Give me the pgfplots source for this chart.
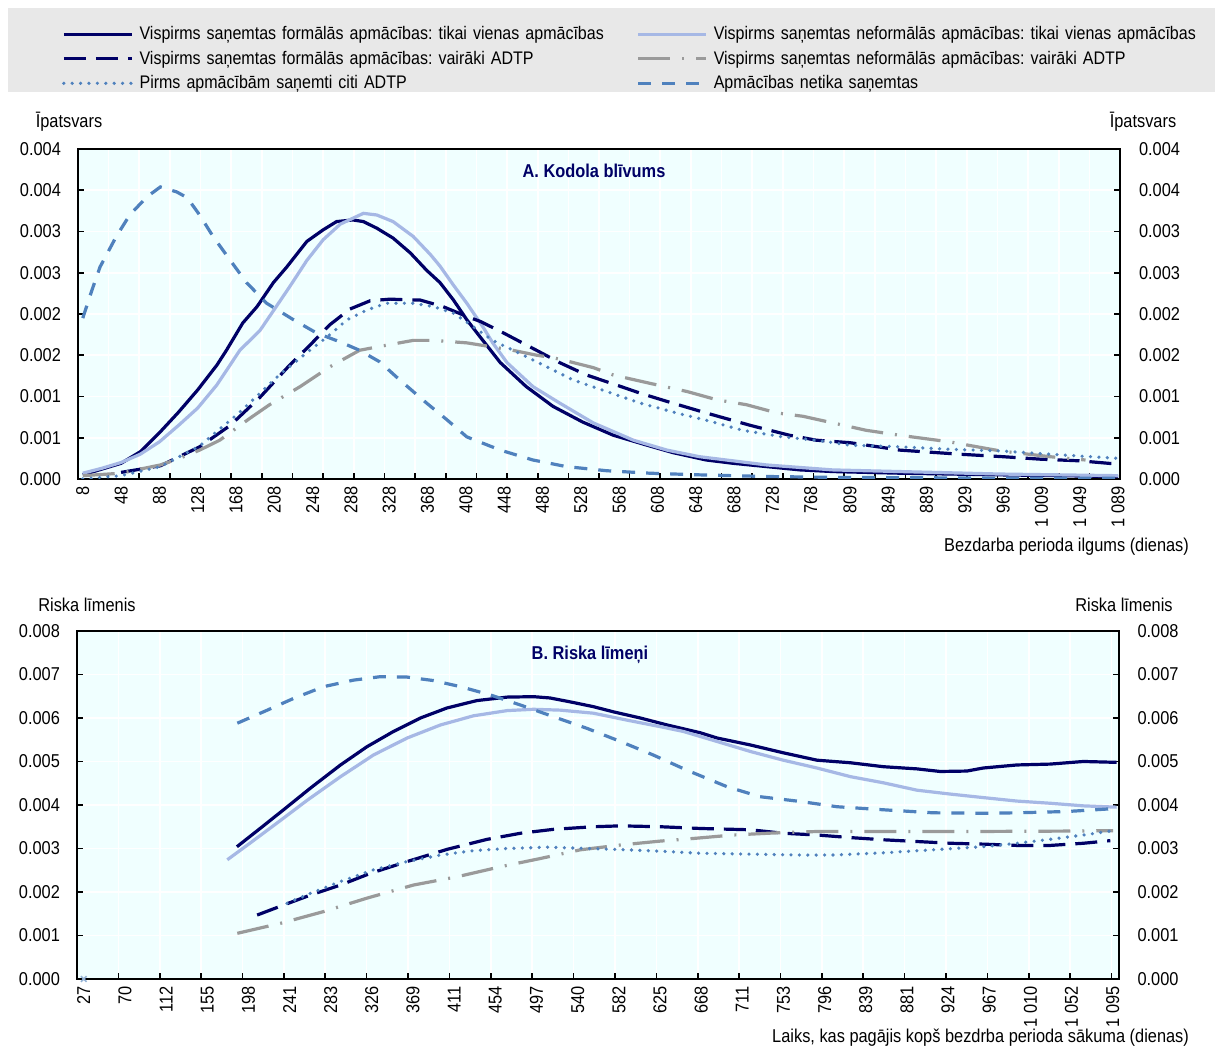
\documentclass[border=0pt]{standalone}
\usepackage{fontspec}
\setmainfont[FakeStretch=0.88]{Liberation Sans}
\usepackage{pgfplots}
\pgfplotsset{compat=1.18}
\frenchspacing
\definecolor{cNavy}{RGB}{0,0,102}
\definecolor{cLight}{HTML}{A6B8E5}
\definecolor{cGray}{HTML}{9A9A9A}
\definecolor{cBlue}{HTML}{4F81BD}
\definecolor{cBg}{HTML}{F0FFFF}
\definecolor{cLeg}{HTML}{E8E8E8}
\newcommand\f{\fontsize{9.3pt}{11pt}\selectfont}
\newcommand\fl{\fontsize{9.1pt}{11pt}\selectfont}
\pgfplotsset{
  base/.style={scale only axis, anchor=south west,
    /pgf/number format/assume math mode=true, scaled y ticks=false,
    tick label style={font=\f}, label style={font=\f},
    major tick length=0pt, minor tick length=3pt, tick align=inside,
    tick style={black, line width=0.8pt}},
  main/.style={base, axis background/.style={fill=cBg},
    axis line style={black, line width=1pt},
    xtick pos=left, ytick pos=both, yticklabel pos=left,
    ymajorgrids, xminorgrids,
    major grid style={white, line width=0.8pt},
    minor grid style={white, line width=0.8pt},
    x tick label style={rotate=90, anchor=east},
    yticklabel style={xshift=-5pt},
    every axis plot/.append style={line width=1.6pt},
    every axis y label/.style={at={(axis description cs:0,1)}, anchor=center},
    every axis x label/.style={at={(axis description cs:1,0)}, anchor=east},
    every axis title/.style={at={(axis description cs:0.5,1)}, anchor=center, font=\f\bfseries, text=cNavy}},
  rightax/.style={base, hide x axis, axis y line*=right, y axis line style={draw=none},
    yticklabel style={xshift=6pt},
    every axis y label/.style={at={(axis description cs:1,1)}, anchor=center}},
  sOne/.style={cNavy},
  sNOne/.style={cLight},
  sMulti/.style={cNavy, dash pattern=on 11pt off 5pt},
  sNMulti/.style={cGray, dash pattern=on 16pt off 6pt on 1pt off 6pt},
  sOther/.style={cBlue, line width=1.8pt, line cap=round, dash pattern=on 0pt off 4.2pt},
  sNone/.style={cBlue, dash pattern=on 6.5pt off 5.5pt},
}
\begin{document}
\begin{tikzpicture}[font=\f]
\useasboundingbox (0,0) rectangle (611.5pt,523.5pt);
\fill[cLeg] (4pt,477.5pt) rectangle (607.5pt,519.5pt);

% ---------------- Panel A ----------------
\begin{axis}[main, at={(39pt,284pt)}, width=521pt, height=165pt,
  xmin=3, xmax=1091, ymin=0, ymax=0.004,
  xtick={8,48,88,128,168,208,248,288,328,368,408,448,488,528,568,608,648,688,728,768,809,849,889,929,969,1009,1049,1089},
  xticklabels={8,48,88,128,168,208,248,288,328,368,408,448,488,528,568,608,648,688,728,768,809,849,889,929,969,{1 009},{1 049},{1 089}},
  minor xtick={3,35,...,1091},
  ytick={0,0.0005,0.001,0.0015,0.002,0.0025,0.003,0.0035,0.004},
  minor ytick={0,0.0005,0.001,0.0015,0.002,0.0025,0.003,0.0035,0.004},
  yticklabels={0.000,0.001,0.001,0.002,0.002,0.003,0.003,0.004,0.004},
  xlabel={Bezdarba perioda ilgums (dienas)}, xlabel style={xshift=38pt, yshift=-34pt},
  ylabel={Īpatsvars}, ylabel style={xshift=-4.5pt, yshift=13.5pt},
  title={A. Kodola blīvums}, title style={xshift=-2.5pt, yshift=-11pt},
  legend columns=2, legend cell align=left,
  legend style={at={(axis description cs:-0.01536,1.3727)}, anchor=north west,
    draw=none, fill=none, inner sep=0pt, outer sep=0pt, row sep=3.95pt, font=\fl,
    nodes={inner sep=0pt},
    /tikz/every odd column/.append style={column sep=3pt},
    /tikz/every even column/.append style={text width=248.5pt, align=left, text height=6.8pt, text depth=2pt}},
  legend image code/.code={\draw[#1] (0pt,0pt) -- (34pt,0pt);},
]
\addplot[sOne] coordinates {(8,0.00005)(48,0.00019)(68,0.00033)(88,0.00056)(108,0.00081)(128,0.00108)(148,0.00138)(158,0.00156)(175,0.00189)(190,0.00209)(207,0.00238)(221,0.00257)(242,0.00288)(259,0.00302)(273,0.00312)(290,0.00314)(301,0.00312)(315,0.00304)(332,0.00292)(350,0.00274)(367,0.00253)(381,0.00238)(395,0.00217)(409,0.00193)(423,0.00172)(444,0.00141)(471,0.00112)(499,0.00088)(530,0.00069)(562,0.00053)(597,0.00041)(624,0.00032)(659,0.00023)(687,0.00019)(722,0.00015)(757,0.00011)(791,0.00009)(861,0.00007)(966,0.00005)(1089,0.00003)};
\addlegendentry{Vispirms saņemtas formālās apmācības: tikai vienas apmācības}
\addplot[sNOne] coordinates {(8,0.00007)(28,0.00013)(48,0.0002)(68,0.0003)(88,0.00045)(108,0.00065)(128,0.00086)(148,0.00114)(172,0.00156)(193,0.0018)(210,0.00209)(224,0.00233)(242,0.00265)(259,0.0029)(277,0.00309)(301,0.00322)(315,0.0032)(332,0.00312)(353,0.00294)(371,0.00272)(381,0.00258)(395,0.00235)(409,0.00213)(426,0.00184)(436,0.00165)(451,0.00141)(478,0.00112)(506,0.00092)(541,0.00068)(583,0.00047)(618,0.00035)(652,0.00027)(722,0.00017)(791,0.00011)(861,0.00009)(966,0.00006)(1089,0.00004)};
\addlegendentry{Vispirms saņemtas neformālās apmācības: tikai vienas apmācības}
\addplot[sMulti] coordinates {(48,0.00008)(89,0.00016)(130,0.00039)(162,0.00065)(193,0.00099)(224,0.00138)(245,0.00162)(266,0.00187)(287,0.00206)(308,0.00216)(329,0.00218)(350,0.00217)(360,0.00217)(384,0.00209)(409,0.00197)(423,0.00191)(444,0.00179)(485,0.00154)(506,0.00141)(534,0.00126)(565,0.00114)(590,0.00104)(618,0.00094)(659,0.0008)(705,0.00065)(746,0.00053)(774,0.00047)(809,0.00044)(844,0.00038)(861,0.00035)(924,0.0003)(969,0.00027)(1008,0.00024)(1049,0.00022)(1089,0.00018)};
\addlegendentry{Vispirms saņemtas formālās apmācības: vairāki ADTP}
\addplot[sNMulti] coordinates {(8,0.00004)(48,0.00007)(68,0.00012)(89,0.00017)(109,0.00025)(130,0.00035)(151,0.00047)(183,0.00074)(203,0.0009)(235,0.00112)(266,0.00136)(297,0.00156)(315,0.0016)(353,0.00168)(374,0.00168)(409,0.00165)(436,0.0016)(457,0.00156)(482,0.0015)(499,0.00147)(517,0.00142)(541,0.00135)(562,0.00126)(600,0.00116)(639,0.00106)(670,0.00096)(701,0.0009)(733,0.0008)(760,0.00076)(791,0.00068)(826,0.00059)(861,0.00053)(913,0.00045)(966,0.00034)(1018,0.00027)(1055,0.00023)};
\addlegendentry{Vispirms saņemtas neformālās apmācības: vairāki ADTP}
\addplot[sOther] coordinates {(8,0.0)(48,0.00004)(89,0.00015)(130,0.0004)(172,0.00081)(214,0.00127)(245,0.00156)(263,0.00172)(284,0.00193)(305,0.00205)(325,0.00213)(353,0.00213)(374,0.00209)(395,0.00201)(409,0.0019)(436,0.00168)(461,0.00154)(489,0.00138)(520,0.0012)(555,0.00106)(590,0.00092)(628,0.0008)(663,0.0007)(697,0.00059)(739,0.00051)(774,0.00047)(809,0.00041)(861,0.00039)(913,0.00036)(966,0.00034)(1018,0.0003)(1089,0.00025)};
\addlegendentry{Pirms apmācībām saņemti citi ADTP}
\addplot[sNone] coordinates {(8,0.00195)(17,0.00227)(26,0.00257)(43,0.00294)(57,0.0032)(75,0.00342)(89,0.00354)(106,0.00348)(117,0.00341)(130,0.0032)(144,0.00294)(162,0.00265)(179,0.00238)(200,0.00213)(228,0.00193)(252,0.00177)(277,0.00166)(297,0.00156)(318,0.00142)(339,0.0012)(367,0.00092)(388,0.00072)(409,0.00051)(444,0.00035)(478,0.00023)(513,0.00015)(555,0.0001)(600,0.00007)(652,0.00005)(722,0.00003)(791,0.00002)(966,0.00001)(1089,0.00001)};
\addlegendentry{Apmācības netika saņemtas}
\end{axis}
\begin{axis}[rightax, at={(39pt,284pt)}, width=521pt, height=165pt,
  xmin=3, xmax=1091, ymin=0, ymax=0.004,
  ytick={0,0.0005,0.001,0.0015,0.002,0.0025,0.003,0.0035,0.004},
  yticklabels={0.000,0.001,0.001,0.002,0.002,0.003,0.003,0.004,0.004},
  ylabel={Īpatsvars}, ylabel style={xshift=11.5pt, yshift=13.5pt}]
\end{axis}

% ---------------- Panel B ----------------
\begin{axis}[main, at={(38.5pt,34pt)}, width=520.75pt, height=174pt,
  xmin=20, xmax=1101, ymin=0, ymax=0.008,
  xtick={27,69.7,112.4,155.2,197.9,240.6,283.3,326,368.8,411.5,454.2,496.9,539.6,582.4,625.1,667.8,710.5,753.2,796,838.7,881.4,924.1,966.8,1009.6,1052.3,1095},
  xticklabels={27,70,112,155,198,241,283,326,369,411,454,497,540,582,625,668,711,753,796,839,881,924,967,{1 010},{1 052},{1 095}},
  minor xtick={20,62.95,...,1100},
  ytick={0,0.001,0.002,0.003,0.004,0.005,0.006,0.007,0.008},
  minor ytick={0,0.001,0.002,0.003,0.004,0.005,0.006,0.007,0.008},
  yticklabels={0.000,0.001,0.002,0.003,0.004,0.005,0.006,0.007,0.008},
  xlabel={Laiks, kas pagājis kopš bezdrba perioda sākuma (dienas)}, xlabel style={xshift=38.75pt, yshift=-29.5pt},
  ylabel={Riska līmenis}, ylabel style={xshift=5pt, yshift=13pt},
  title={B. Riska līmeņi}, title style={xshift=-3.9pt, yshift=-12pt},
]
\addplot[sOne] coordinates {(186,0.00304)(210.6,0.00347)(234.4,0.00389)(262.4,0.00439)(293.5,0.00492)(321,0.00534)(348.5,0.00569)(376.5,0.006)(404,0.00623)(435,0.0064)(466.5,0.00648)(493.8,0.00649)(511,0.00646)(532,0.00637)(556,0.00626)(577,0.00614)(604.6,0.006)(632.4,0.00584)(667,0.00566)(684.3,0.00554)(718.9,0.00538)(753,0.0052)(788,0.00503)(823,0.00497)(857,0.00488)(891.8,0.00483)(916,0.00477)(943.6,0.00478)(960.6,0.00485)(995.5,0.00492)(1030,0.00494)(1064.5,0.005)(1099,0.00498)};
\addplot[sNOne] coordinates {(176,0.00274)(200,0.00313)(227.9,0.00359)(259,0.00411)(293.5,0.00465)(327.8,0.00515)(362.7,0.00554)(397.3,0.00584)(431.5,0.00605)(466.5,0.00617)(493.8,0.0062)(521.8,0.00618)(556,0.00611)(591,0.00595)(625.5,0.0058)(649.4,0.00569)(684.3,0.00546)(718.9,0.00523)(753,0.00503)(788,0.00485)(823,0.00465)(857,0.00451)(891.8,0.00434)(926.7,0.00425)(960.6,0.00417)(995.5,0.00409)(1030,0.00404)(1064.5,0.00398)(1099,0.00395)};
\addplot[sMulti] coordinates {(207,0.00147)(234.4,0.0017)(262.4,0.00193)(293.5,0.00216)(324.7,0.00243)(362.7,0.0027)(404.2,0.00298)(445.7,0.00321)(480.3,0.00335)(514.5,0.00344)(556,0.0035)(584,0.00352)(625.5,0.0035)(667,0.00346)(718.9,0.00343)(753,0.00335)(788,0.00331)(823,0.00325)(857,0.0032)(891.8,0.00316)(926.7,0.00312)(960.6,0.0031)(995.5,0.00307)(1030,0.00307)(1064.5,0.00312)(1092.5,0.00318)};
\addplot[sNMulti] coordinates {(186.4,0.00105)(231.3,0.00128)(276,0.00155)(321.2,0.00186)(369.3,0.00216)(414.6,0.00235)(459.5,0.00258)(501,0.00277)(542.5,0.00297)(584,0.00308)(625.5,0.00317)(659.7,0.00323)(701,0.00331)(746.5,0.00336)(788,0.00339)(840,0.00339)(943.6,0.00339)(1047.4,0.0034)(1095.5,0.00341)};
\addplot[sOther] coordinates {(238,0.00174)(262.4,0.00197)(293.5,0.00224)(327.8,0.00251)(362.7,0.0027)(397.3,0.00285)(431.5,0.00295)(466.5,0.003)(508,0.00303)(549.5,0.003)(591,0.00297)(632.4,0.00293)(667,0.00289)(718.9,0.00287)(771,0.00285)(805,0.00285)(857,0.0029)(908.7,0.00297)(960.6,0.00304)(995.5,0.00312)(1030,0.00321)(1064.5,0.00331)(1095.5,0.00341)};
\addplot[sNone] coordinates {(186.4,0.00588)(217.5,0.00618)(244.8,0.00645)(276,0.00672)(307,0.00687)(335,0.00695)(362.7,0.00694)(390,0.00686)(418,0.00672)(449,0.00653)(480,0.0063)(514.5,0.00603)(549.5,0.00576)(584,0.00546)(618,0.00515)(653,0.0048)(694.7,0.00442)(729,0.00419)(771,0.00408)(808.8,0.00396)(856.8,0.00389)(908.7,0.00382)(960.6,0.00381)(995.5,0.00382)(1047.4,0.00385)(1099,0.00392)};
\addplot[only marks, mark=x, mark size=2pt, cBlue!60, line width=0.8pt] coordinates {(27,0)};
\end{axis}
\begin{axis}[rightax, at={(38.5pt,34pt)}, width=520.75pt, height=174pt,
  xmin=20, xmax=1101, ymin=0, ymax=0.008,
  ytick={0,0.001,0.002,0.003,0.004,0.005,0.006,0.007,0.008},
  yticklabels={0.000,0.001,0.002,0.003,0.004,0.005,0.006,0.007,0.008},
  ylabel={Riska līmenis}, ylabel style={xshift=2.75pt, yshift=13pt}]
\end{axis}
\end{tikzpicture}
\end{document}
